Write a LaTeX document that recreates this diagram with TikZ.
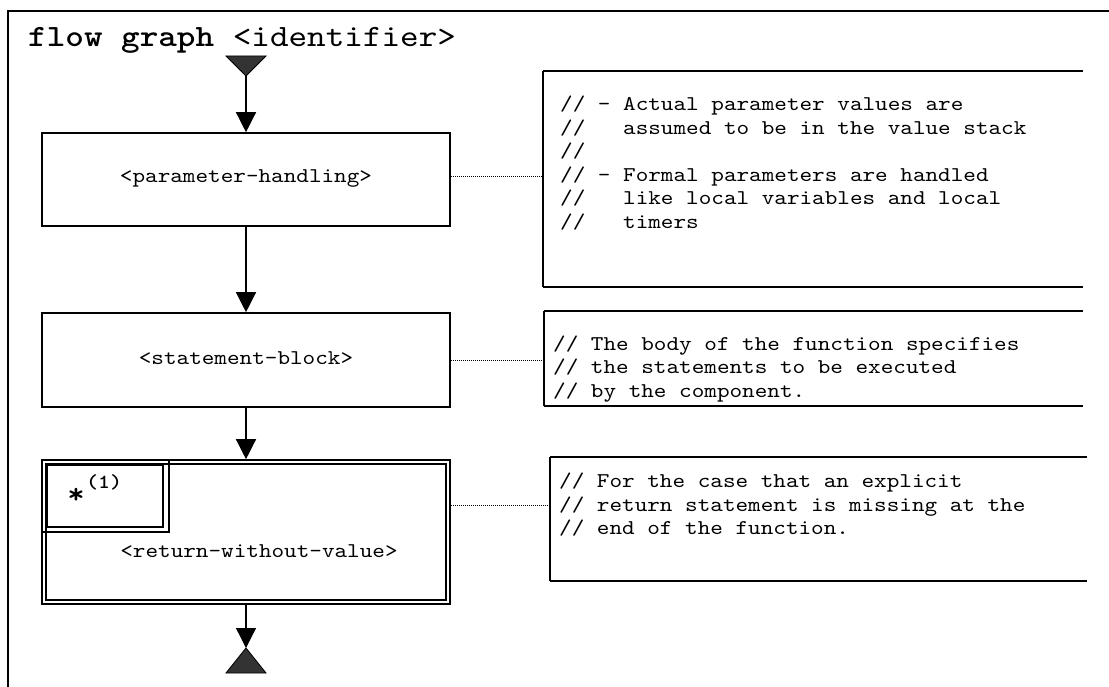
\documentclass[tikz,border=0pt]{standalone}
\usepackage{fontspec}
\newfontfamily\cour{lmmono10-regular.otf}[FakeStretch=1.143,BoldFont=lmmonolt10-bold.otf,BoldFeatures={FakeStretch=1.143}]
\usetikzlibrary{arrows.meta}
\begin{document}
\begin{tikzpicture}[x=1pt,y=-1pt,
  frame/.style={line width=1.5pt},
  box/.style={draw,line width=1.6pt,inner sep=0pt,minimum width=408pt},
  thinrect/.style={line width=1.6pt},
  flow/.style={line width=1.3pt,-{Triangle[width=20pt,length=20pt]}},
  term/.style={draw=black,fill=black!80,line width=0.8pt},
  notetb/.style={line width=2pt},
  noteside/.style={line width=1.2pt},
  link/.style={line width=0.9pt,dash pattern=on 0.9pt off 1.1pt},
  lbl/.style={font=\fontsize{21}{23.5}\selectfont\cour,inner sep=0pt},
  ann/.style={font=\fontsize{21}{23.5}\selectfont\cour,align=left,inner sep=0pt,anchor=west},
]
\useasboundingbox (0,0) rectangle (1109,687);
\fill[white] (0,0) rectangle (1109,687);

% outer frame (open at right and bottom)
\draw[frame] (8,700) -- (8,11) -- (1120,11);

% title
\node[anchor=base west,inner sep=0pt,font=\fontsize{31}{33}\selectfont\cour] (title) at (28,46.5) {\textbf{flow graph} <identifier>};

% start / end terminals
\coordinate (start) at (246,76);
\coordinate (end) at (246,648);
\draw[term] (226,56) -- (266,56) -- (start) -- cycle;
\draw[term] (226,673) -- (266,673) -- (end) -- cycle;

% boxes
\node[box,minimum height=93pt] (b1) at (246,179.5) {};
\node[lbl] (t1) at (246,178) {<parameter-handling>};
\node[box,minimum height=94pt] (b2) at (246,360) {};
\node[lbl] (t2) at (246,358) {<statement-block>};
\node[box,minimum height=144pt] (b3) at (246,532) {};
\draw[thinrect] ([shift={(5,5)}]b3.north west) rectangle ([shift={(-5,-5)}]b3.south east);
\draw[thinrect] (42,460) rectangle (169,532);
\draw[thinrect] (47,465) rectangle (163,527);
\node[inner sep=0pt,font=\fontsize{29}{29}\selectfont\cour\bfseries] (star) at (76,496) {*};
\node[inner sep=0pt,anchor=west,font=\fontsize{20}{20}\selectfont\cour\bfseries] (sup) at (86,482) {(1)};
\node[lbl] (t3) at (259,551) {<return-without-value>};

% connectors
\draw[flow] (start) -- (b1.north);
\draw[flow] (b1.south) -- (b2.north);
\draw[flow] (b2.south) -- (b3.north);
\draw[flow] (b3.south) -- (end);

% annotation 1
\draw[notetb] (1083,71) -- (543,71);
\draw[noteside] (543,71) -- (543,287);
\draw[notetb] (543,287) -- (1083,287);
\coordinate (n1) at (543,176);
\draw[link] (b1.east |- n1) -- (n1);
\node[ann] (a1) at (560,163) {//~-~Actual parameter values are\\//~~~assumed to be in the value stack\\//\\//~-~Formal parameters are handled\\//~~~like local variables and local\\//~~~timers};

% annotation 2
\draw[notetb] (1083,311) -- (544,311);
\draw[noteside] (544,311) -- (544,406);
\draw[notetb] (544,406) -- (1083,406);
\coordinate (n2) at (544,360);
\draw[link] (b2.east |- n2) -- (n2);
\node[ann] (a2) at (553,369) {//~The body of the function specifies\\//~the statements to be executed\\//~by the component.};

% annotation 3
\draw[notetb] (1087,457) -- (550,457);
\draw[noteside] (550,457) -- (550,581);
\draw[notetb] (550,581) -- (1087,581);
\coordinate (n3) at (550,505);
\draw[link] (b3.east |- n3) -- (n3);
\node[ann] (a3) at (559,505) {//~For the case that an explicit\\//~return statement is missing at the\\//~end of the function.};
\end{tikzpicture}
\end{document}
